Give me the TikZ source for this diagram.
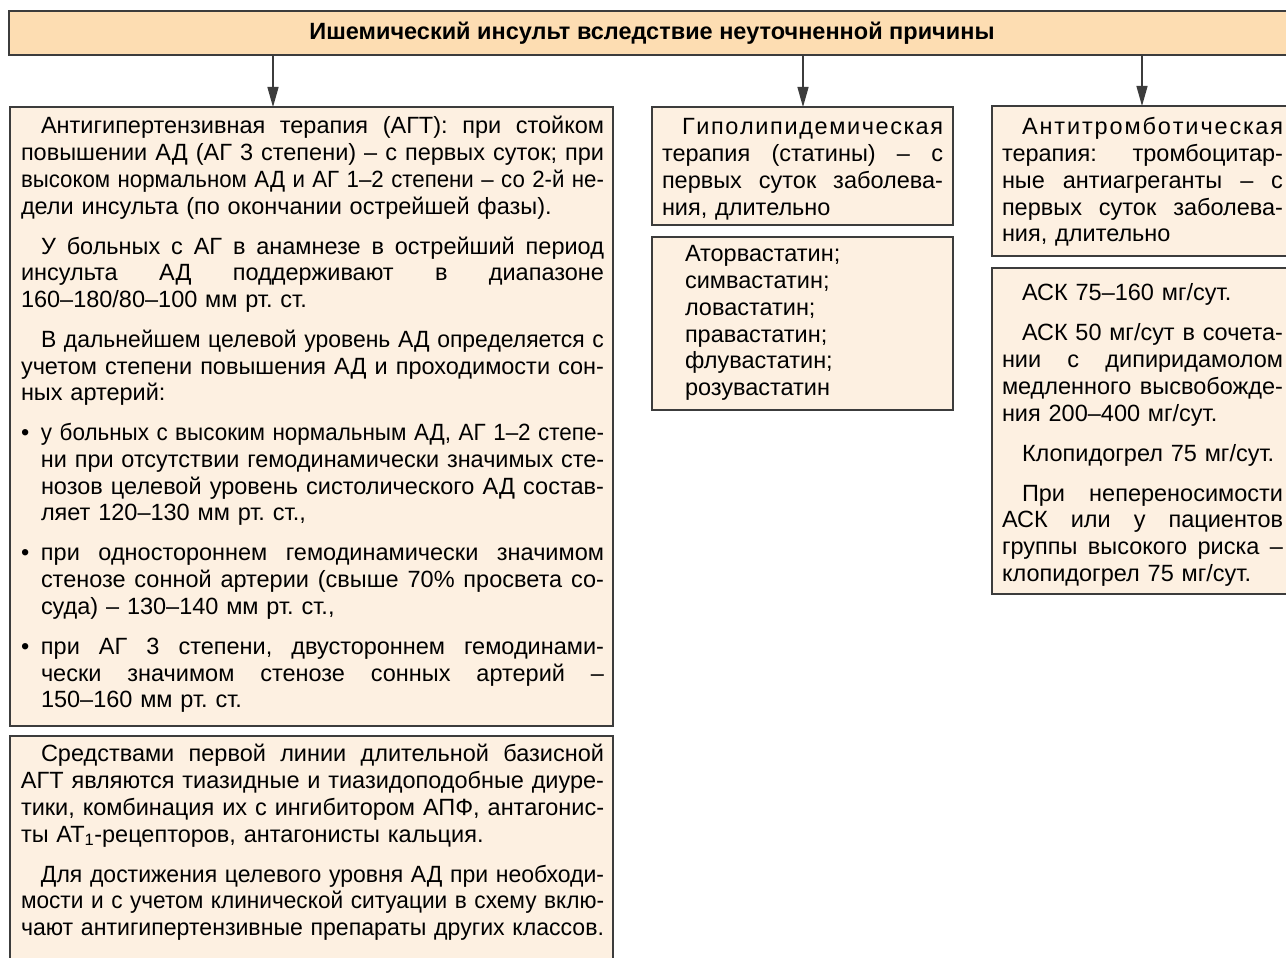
\documentclass[tikz,border=0pt]{standalone}
\usepackage{fontspec}
\setmainfont{Liberation Sans}
\usepackage{graphicx}
\usetikzlibrary{arrows.meta}

\definecolor{hdrfill}{RGB}{253,221,178}
\definecolor{boxfill}{RGB}{253,240,225}
\definecolor{edgegray}{RGB}{60,60,60}

\newsavebox\jlbox
\newlength\jlw
\newlength\indw
\setlength\indw{20pt}
% replace interword spaces by stretchable glue
\def\spw#1 #2\spwend{#1\if\relax\detokenize{#2}\relax\else\hskip 0.278em plus 1fil\relax\spw#2\spwend\fi}
% justified line: stretch spaces to width, or squeeze if too wide
\newcommand\jline[2]{\setlength\jlw{#1}\sbox\jlbox{#2}%
  \ifdim\wd\jlbox>\jlw\resizebox{\jlw}{\height}{\usebox\jlbox}\else\hbox to\jlw{\spw#2 \spwend}\fi}
% natural line: squeeze only if too wide
\newcommand\nline[2]{\setlength\jlw{#1}\sbox\jlbox{#2}%
  \ifdim\wd\jlbox>\jlw\resizebox{\jlw}{\height}{\usebox\jlbox}\else\usebox\jlbox\fi}
\newcommand\myLJ[1]{\noindent\strut\jline{\hsize}{#1}\par}
\newcommand\myLN[1]{\noindent\strut\nline{\hsize}{#1}\par}
\newcommand\myIJ[1]{\noindent\strut\hspace*{\indw}\jline{\dimexpr\hsize-\indw\relax}{#1}\par}
\newcommand\myIN[1]{\noindent\strut\hspace*{\indw}\nline{\dimexpr\hsize-\indw\relax}{#1}\par}
\newcommand\myBJ[1]{\noindent\strut\makebox[\indw][l]{•}\jline{\dimexpr\hsize-\indw\relax}{#1}\par}
\newcommand\myPG{\vspace{13.3pt}}
\newcommand\mytset{\parskip=0pt\lineskiplimit=-100pt\lineskip=0pt\frenchspacing}

\begin{document}
\begin{tikzpicture}[x=1pt,y=-1pt,
  hdrbox/.style={draw=edgegray,line width=1.4pt,fill=hdrfill,inner sep=0pt,outer sep=0pt,anchor=north west,
    font=\fontsize{23.5pt}{28pt}\selectfont\bfseries},
  bx/.style={draw=edgegray,line width=1.4pt,fill=boxfill,inner sep=0pt,outer sep=0pt,anchor=north west},
  txt/.style={anchor=north west,inner sep=0pt,outer sep=0pt,
    font=\fontsize{23.5pt}{26.7pt}\selectfont\mytset},
  arr/.style={draw=edgegray,line width=1.3pt,-{Triangle[length=20pt,width=11pt]}}
]
\useasboundingbox (0,0) rectangle (1286,958);
\clip (0,0) rectangle (1286,958);
\fill[white] (0,0) rectangle (1286,958);

% header
\node[hdrbox,minimum width=1286pt,minimum height=44pt] (H) at (9,11)
  {Ишемический инсульт вследствие неуточненной причины};

% boxes
\node[bx,minimum width=603pt,minimum height=619pt] (L1) at (10,107) {};
\node[bx,minimum width=603pt,minimum height=240pt] (L2) at (10,736) {};
\node[bx,minimum width=301pt,minimum height=118pt] (M1) at (652,107) {};
\node[bx,minimum width=301pt,minimum height=173pt] (M2) at (652,237) {};
\node[bx,minimum width=310pt,minimum height=150pt] (R1) at (992,106) {};
\node[bx,minimum width=310pt,minimum height=326pt] (R2) at (992,268) {};

% arrow positions
\coordinate (a1) at (273,0);
\coordinate (a2) at (803,0);
\coordinate (a3) at (1142,0);
\draw[arr] (a1 |- H.south) -- (a1 |- L1.north);
\draw[arr] (a2 |- H.south) -- (a2 |- M1.north);
\draw[arr] (a3 |- H.south) -- (a3 |- R1.north);

% left box 1 text
\node[txt,text width=583pt] (L1t) at ([xshift=11pt,yshift=-8.3pt]L1.north west) {%
\myIJ{Антигипертензивная терапия (АГТ): при стойком}
\myLJ{повышении АД (АГ 3 степени) – с первых суток; при}
\myLJ{высоком нормальном АД и АГ 1–2 степени – со 2-й не-}
\myLN{дели инсульта (по окончании острейшей фазы).}
\myPG
\myIJ{У больных с АГ в анамнезе в острейший период}
\myLJ{инсульта АД поддерживают в диапазоне}
\myLN{160–180/80–100 мм рт. ст.}
\myPG
\myIJ{В дальнейшем целевой уровень АД определяется с}
\myLJ{учетом степени повышения АД и проходимости сон-}
\myLN{ных артерий:}
\myPG
\myBJ{у больных с высоким нормальным АД, АГ 1–2 степе-}
\myIJ{ни при отсутствии гемодинамически значимых сте-}
\myIJ{нозов целевой уровень систолического АД состав-}
\myIN{ляет 120–130 мм рт. ст.,}
\myPG
\myBJ{при одностороннем гемодинамически значимом}
\myIJ{стенозе сонной артерии (свыше 70\% просвета со-}
\myIN{суда) – 130–140 мм рт. ст.,}
\myPG
\myBJ{при АГ 3 степени, двустороннем гемодинами-}
\myIJ{чески значимом стенозе сонных артерий –}
\myIN{150–160 мм рт. ст.}};

% left box 2 text
\node[txt,text width=583pt] (L2t) at ([xshift=11pt,yshift=-7.3pt]L2.north west) {%
\myIJ{Средствами первой линии длительной базисной}
\myLJ{АГТ являются тиазидные и тиазидоподобные диуре-}
\myLJ{тики, комбинация их с ингибитором АПФ, антагонис-}
\myLN{ты АТ\textsubscript{1}-рецепторов, антагонисты кальция.}
\myPG
\myIJ{Для достижения целевого уровня АД при необходи-}
\myLJ{мости и с учетом клинической ситуации в схему вклю-}
\myLJ{чают антигипертензивные препараты других классов.}};

% middle box 1 text
\node[txt,text width=281pt] (M1t) at ([xshift=10pt,yshift=-9.3pt]M1.north west) {%
\myIJ{Г\hfil и\hfil п\hfil о\hfil л\hfil и\hfil п\hfil и\hfil д\hfil е\hfil м\hfil и\hfil ч\hfil е\hfil с\hfil к\hfil а\hfil я}
\myLJ{терапия (статины) – с}
\myLJ{первых суток заболева-}
\myLN{ния, длительно}};

% middle box 2 text
\node[txt,text width=260pt] (M2t) at ([xshift=33pt,yshift=-6.3pt]M2.north west) {%
\myLN{Аторвастатин;}
\myLN{симвастатин;}
\myLN{ловастатин;}
\myLN{правастатин;}
\myLN{флувастатин;}
\myLN{розувастатин}};

% right box 1 text
\node[txt,text width=281pt] (R1t) at ([xshift=10pt,yshift=-10.3pt]R1.north west) {%
\myIJ{А\hfil н\hfil т\hfil и\hfil т\hfil р\hfil о\hfil м\hfil б\hfil о\hfil т\hfil и\hfil ч\hfil е\hfil с\hfil к\hfil а\hfil я}
\myLJ{терапия: тромбоцитар-}
\myLJ{ные антиагреганты – с}
\myLJ{первых суток заболева-}
\myLN{ния, длительно}};

% right box 2 text
\node[txt,text width=281pt] (R2t) at ([xshift=10pt,yshift=-14.3pt]R2.north west) {%
\myIN{АСК 75–160 мг/сут.}
\myPG
\myIJ{АСК 50 мг/сут в сочета-}
\myLJ{нии с дипиридамолом}
\myLJ{медленного высвобожде-}
\myLN{ния 200–400 мг/сут.}
\myPG
\myIN{Клопидогрел 75 мг/сут.}
\myPG
\myIJ{При непереносимости}
\myLJ{АСК или у пациентов}
\myLJ{группы высокого риска –}
\myLN{клопидогрел 75 мг/сут.}};
\end{tikzpicture}
\end{document}
